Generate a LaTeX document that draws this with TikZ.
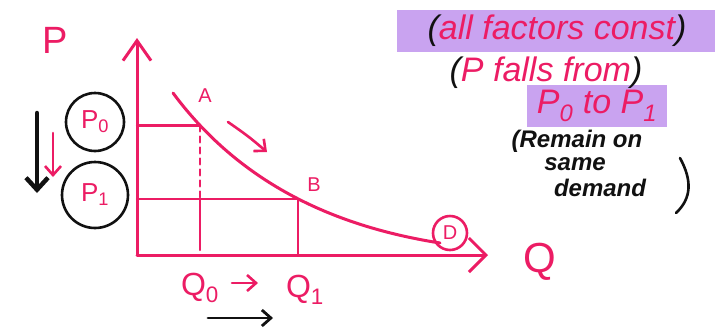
\documentclass[tikz,border=0pt]{standalone}
\usepackage{fontspec}
\setmainfont{Liberation Sans}
\usetikzlibrary{arrows.meta}

\definecolor{ink}{HTML}{EC1C64}
\definecolor{pen}{HTML}{111111}
\definecolor{marker}{HTML}{C9A3F0}

\begin{document}
\begin{tikzpicture}[
  x=1pt, y=-1pt,
  line cap=round, line join=round,
  every node/.style={inner sep=1pt},
  axis/.style={draw=ink, line width=3pt},
  curve/.style={draw=ink, line width=3pt},
  guide/.style={draw=ink, line width=2.2pt},
  ring/.style={circle, draw=pen, line width=2.6pt, inner sep=0pt, text=ink,
    font=\fontsize{26}{26}\selectfont},
  tag/.style={text=ink, font=\fontsize{32}{32}\selectfont},
  small tag/.style={text=ink, font=\fontsize{20}{20}\selectfont},
  note/.style={text=ink, font=\fontsize{34}{36}\selectfont\itshape},
  remark/.style={text=pen, font=\fontsize{24}{24}\selectfont\itshape\bfseries, inner sep=0pt},
  barb/.style={-{Straight Barb[length=9pt,width=16pt]}},
]
\useasboundingbox (0,0) rectangle (717,333);
\fill[white] (0,0) rectangle (717,333);

% highlighter
\fill[marker] (397,10) rectangle (715,52);
\fill[marker] (527,85) rectangle (667,127);

% axes
\coordinate (O) at (137,255);
\coordinate (ytip) at (137,38);
\coordinate (xtip) at (488,255);
\draw[axis, -{Straight Barb[length=20pt,width=28pt]}] (O) -- (ytip);
\draw[axis, -{Straight Barb[length=17pt,width=34pt]}] (O) -- (xtip);

% demand curve, A and B on it
\coordinate (s) at (173,93);
\coordinate (e) at (440,243);
\draw[curve] (s) .. controls (245,190) and (345,228) .. (e)
  coordinate[pos=0.12] (A) coordinate[pos=0.5] (B);

% price and quantity guides
\draw[guide] (O |- A) -- (A);
\draw[guide, dash pattern=on 6pt off 5pt] (A) -- (A |- B);
\draw[guide] (A |- B) -- ([yshift=5pt]A |- O);
\draw[guide] (O |- B) -- (B) -- (B |- O);

% movement along the curve
\coordinate (m1) at (228,122);
\coordinate (m2) at (267,152);
\draw[guide, line width=2.6pt, barb] (m1) .. controls (248,136) .. (m2);

% labels
\node[tag, font=\fontsize{38}{38}\selectfont] (lblP) at (55,40) {P};
\node[small tag] (lblA) at (205,96) {A};
\node[small tag] (lblB) at (314,185) {B};
\node[tag] (lblQ0) at (200,288) {Q\textsubscript{0}};
\node[tag] (lblQ1) at (305,290) {Q\textsubscript{1}};
\node[tag, font=\fontsize{42}{42}\selectfont] (lblQ) at (540,262) {Q};
\node[circle, draw=ink, line width=2.6pt, minimum size=34pt, inner sep=0pt,
  small tag] (dring) at (450,233) {D};

% circled prices
\node[ring, minimum size=58pt] (p0ring) at (95,122) {P\textsubscript{0}};
\node[ring, minimum size=66pt] (p1ring) at (95,195) {P\textsubscript{1}};

% price falls
\coordinate (d1) at (37,113);
\coordinate (d2) at (37,193);
\draw[pen, line width=4.5pt, -{Straight Barb[length=12pt,width=22pt]}] (d1) -- (d2);
\coordinate (f1) at (53,133);
\coordinate (f2) at (53,177);
\draw[guide, line width=2.6pt, barb] (f1) -- (f2);

% quantity rises
\coordinate (q1) at (232,283);
\coordinate (q2) at (258,283);
\draw[guide, line width=2.6pt, barb] (q1) -- (q2);
\coordinate (r1) at (208,318);
\coordinate (r2) at (273,318);
\draw[pen, line width=2.8pt, barb] (r1) -- (r2);

% notes
\node[note] (n1) at (557,31) {{\color{pen}(}all factors const{\color{pen})}};
\node[note] (n2) at (546,73) {{\color{pen}(}P falls from{\color{pen})}};
\node[note] (n3) at (597,106) {P\textsubscript{0} to P\textsubscript{1}};
\node[remark] (n4) at (577,141) {(Remain on};
\node[remark] (n5) at (575,164) {same};
\node[remark] (n6) at (600,188) {demand};
\draw[pen, line width=2.6pt] (680,158) .. controls (692,180) and (692,198) .. (676,213);
\end{tikzpicture}
\end{document}
